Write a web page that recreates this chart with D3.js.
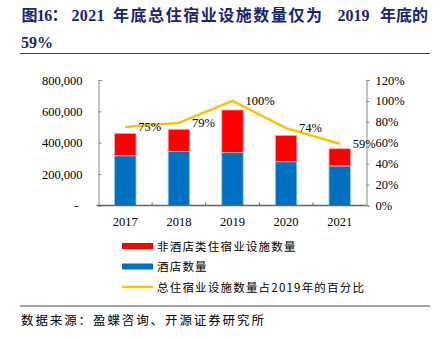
<!DOCTYPE html>
<html><head><meta charset="utf-8">
<script src="https://cdn.jsdelivr.net/npm/d3@7"></script>
<style>body{margin:0;background:#fff}svg{display:block}</style>
</head><body>
<script>
const years = ["2017","2018","2019","2020","2021"];
const hotels = [317000, 345000, 337000, 279000, 252000];
const nonHotels = [143000, 141000, 272000, 168000, 110000];
const pctOf2019 = [75, 79, 100, 74, 59];
const leftTicks = [0, 200000, 400000, 600000, 800000];
const rightTicks = [0, 20, 40, 60, 80, 100, 120];
const legendLabels = ["非酒店类住宿业设施数量", "酒店数量", "总住宿业设施数量占2019年的百分比"];
const titleParts = ["图16：", "2021", "年底总住宿业设施数量仅为", "2019", "年底的"];

const W = 439, H = 340;
const svg = d3.select("body").append("svg").attr("width", W).attr("height", H);
const serif = "'Liberation Serif','Times New Roman',serif";
const cjk = "'Noto Sans CJK SC','Noto Sans',sans-serif";

// Title (segment layout)
const tPos = [[21.5, 46], [71.5, 33], [113, 209], [337.5, 32], [380, 48]];
const title = svg.append("text").attr("y", 21).attr("fill", "#1b2371")
  .attr("font-family", serif + "," + cjk).attr("font-weight", "bold").attr("font-size", 16);
titleParts.forEach((p, i) => {
  title.append("tspan").attr("x", tPos[i][0]).attr("textLength", tPos[i][1])
    .attr("lengthAdjust", "spacing").text(p);
});
svg.append("text").attr("x", 21).attr("y", 48).attr("fill", "#1b2371")
  .attr("font-family", serif).attr("font-weight", "bold").attr("font-size", 16).text("59%");
svg.append("line").attr("x1", 20).attr("x2", 430).attr("y1", 53.5).attr("y2", 53.5)
  .attr("stroke", "#444").attr("stroke-width", 1);

const x0 = 98.5, x1 = 366.5, yTop = 80, yBot = 205.5;
const x = d3.scaleBand().domain(years).range([x0, x1]).paddingInner(0.6).paddingOuter(0.3);
const yL = d3.scaleLinear().domain([0, 800000]).range([yBot, yTop]);
const yR = d3.scaleLinear().domain([0, 120]).range([yBot, yTop]);

// Left axis
const gL = svg.append("g").attr("transform", `translate(${x0},0)`)
  .call(d3.axisLeft(yL).tickValues(leftTicks).tickSize(-3).tickPadding(16)
    .tickFormat(d => d === 0 ? "-" : d3.format(",")(d)));
gL.select(".domain").attr("stroke", "#888");
gL.selectAll(".tick line").attr("stroke", "#888");
gL.selectAll("text").attr("font-family", serif).attr("font-size", 12.5).attr("fill", "#000");
gL.selectAll(".tick").filter(d => d === 0).select("text").attr("dx", -4);

// Right axis
const gR = svg.append("g").attr("transform", `translate(${x1},0)`)
  .call(d3.axisRight(yR).tickValues(rightTicks).tickSize(3).tickPadding(6).tickFormat(d => d + "%"));
gR.select(".domain").attr("stroke", "#888");
gR.selectAll(".tick line").attr("stroke", "#888");
gR.selectAll("text").attr("font-family", serif).attr("font-size", 12.5).attr("fill", "#000");

// Bars
const g = svg.append("g");
years.forEach((yr, i) => {
  const bx = x(yr), bw = x.bandwidth();
  g.append("rect").attr("x", bx).attr("width", bw)
    .attr("y", yL(hotels[i])).attr("height", yL(0) - yL(hotels[i]))
    .attr("fill", "#0070C0").attr("stroke", "#9cc8ee").attr("stroke-width", 0.8);
  g.append("rect").attr("x", bx).attr("width", bw)
    .attr("y", yL(hotels[i] + nonHotels[i])).attr("height", yL(0) - yL(nonHotels[i]))
    .attr("fill", "#FF0000").attr("stroke", "#ffaaaa").attr("stroke-width", 0.8);
});

// X axis
const step = x.step();
const gX = svg.append("g").attr("transform", `translate(0,${yBot})`);
gX.append("line").attr("x1", x0 - 2).attr("x2", x1).attr("stroke", "#666").attr("stroke-width", 1.5);
years.slice(1).forEach(yr => {
  const tx = x(yr) - step * 0.3;
  gX.append("line").attr("x1", tx).attr("x2", tx).attr("y1", 0).attr("y2", -3).attr("stroke", "#666");
});
years.forEach(yr => {
  gX.append("text").attr("x", x(yr) + x.bandwidth() / 2).attr("y", 20)
    .attr("text-anchor", "middle").attr("font-family", serif).attr("font-size", 12.5).text(yr);
});

// Line
const cx = yr => x(yr) + x.bandwidth() / 2;
svg.append("path").datum(pctOf2019)
  .attr("d", d3.line().x((d, i) => cx(years[i])).y(d => yR(d)))
  .attr("fill", "none").attr("stroke", "#FFC000").attr("stroke-width", 2.5);
pctOf2019.forEach((d, i) => {
  svg.append("text").attr("x", cx(years[i]) + 13).attr("y", yR(d) + 4)
    .attr("font-family", serif).attr("font-size", 12.5).text(d + "%");
});

// Legend
const lg = svg.append("g");
const ly = [246, 266.5, 287];
const lc = ["#FF0000", "#0070C0", "#FFC000"];
legendLabels.forEach((t, i) => {
  if (i < 2) lg.append("rect").attr("x", 122).attr("y", ly[i] - 3).attr("width", 31).attr("height", 6).attr("fill", lc[i]);
  else lg.append("line").attr("x1", 122).attr("x2", 153).attr("y1", ly[i]).attr("y2", ly[i]).attr("stroke", lc[i]).attr("stroke-width", 2.5);
  lg.append("text").attr("x", 157).attr("y", ly[i] + 4.5).attr("font-family", cjk + "," + serif)
    .attr("font-size", 11.5).attr("letter-spacing", 1.2).text(t);
});

// Source
svg.append("line").attr("x1", 20).attr("x2", 430).attr("y1", 306).attr("y2", 306).attr("stroke", "#444");
svg.append("text").attr("x", 21).attr("y", 325).attr("font-family", cjk).attr("font-size", 12.5)
  .attr("letter-spacing", 1.9).text("数据来源：盈蝶咨询、开源证券研究所");
</script>
</body></html>
